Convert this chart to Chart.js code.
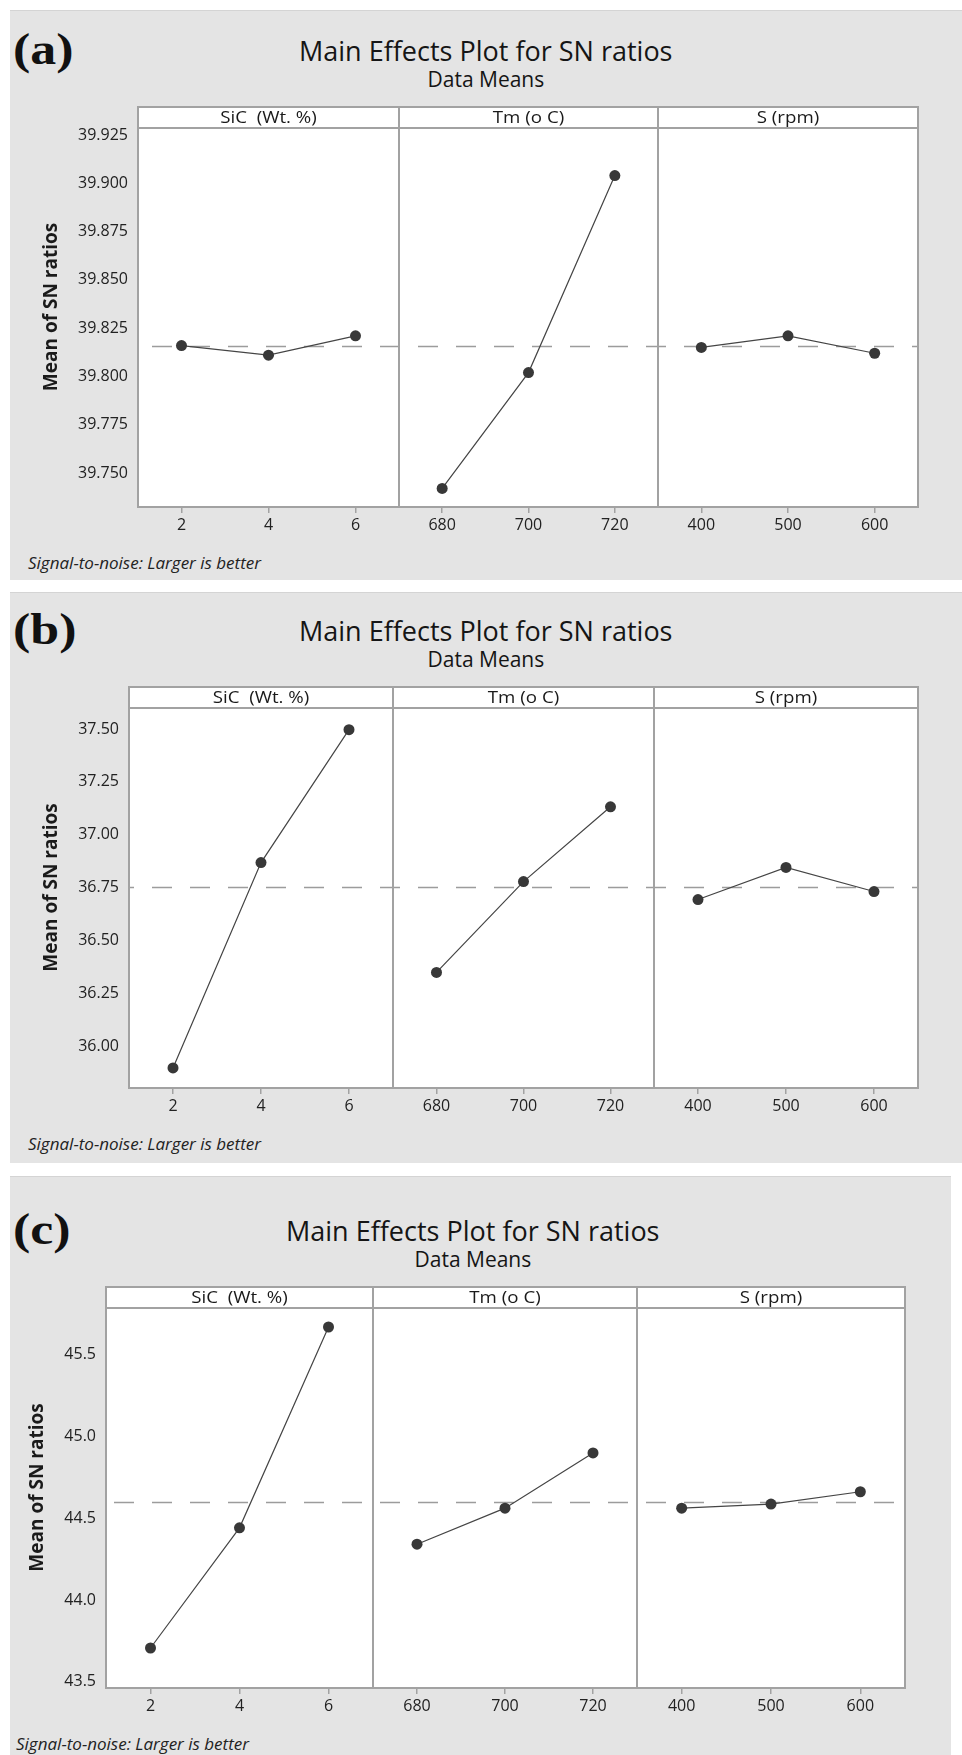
<!DOCTYPE html>
<html>
<head>
<meta charset="utf-8">
<script src="https://cdn.jsdelivr.net/npm/chart.js@4.4.1/dist/chart.umd.min.js"></script>
<style>
  html, body { margin: 0; padding: 0; background: #ffffff; }
  body { width: 962px; height: 1755px; position: relative; overflow: hidden; font-family: "Open Sans", "Noto Sans", sans-serif; }
  .fig { position: absolute; background: #e4e4e4; border-top: 1px solid #d4d4d4; box-sizing: border-box; }
  .tag { position: absolute; font-family: "Liberation Serif", "Times New Roman", serif; font-weight: bold; font-size: 44px; line-height: 1; color: #111; transform-origin: left center; white-space: nowrap; }
  .title { position: absolute; font-size: 27px; color: #151515; white-space: nowrap; line-height: 1; }
  .sub { position: absolute; font-size: 21px; color: #151515; white-space: nowrap; line-height: 1; }
  .note { position: absolute; font-style: italic; font-size: 17px; color: #222; white-space: nowrap; line-height: 1; }
  canvas { position: absolute; left: 0; }
</style>
</head>
<body>
<script>
// ---- factor levels (x categories) ----
const factorNames = ['SiC  (Wt. %)', 'Tm (o C)', 'S (rpm)'];
const sicLevels = ['2', '4', '6'];
const tmLevels = ['680', '700', '720'];
const speedLevels = ['400', '500', '600'];

// ---- (a) mean S/N ratios per level ----
const snA_SiC = [39.816, 39.811, 39.821];
const snA_Tm = [39.742, 39.802, 39.904];
const snA_S = [39.815, 39.821, 39.812];
const meanA = 39.816;
const yTicksA = [39.750, 39.775, 39.800, 39.825, 39.850, 39.875, 39.900, 39.925];

// ---- (b) mean S/N ratios per level ----
const snB_SiC = [35.896, 36.868, 37.497];
const snB_Tm = [36.348, 36.778, 37.132];
const snB_S = [36.693, 36.845, 36.731];
const meanB = 36.754;
const yTicksB = [36.00, 36.25, 36.50, 36.75, 37.00, 37.25, 37.50];

// ---- (c) mean S/N ratios per level ----
const snC_SiC = [43.707, 44.440, 45.665];
const snC_Tm = [44.340, 44.560, 44.897];
const snC_S = [44.560, 44.585, 44.660];
const meanC = 44.600;
const yTicksC = [43.5, 44.0, 44.5, 45.0, 45.5];

// ---- page layout (pixels) ----
const PAGE_W = 962;
const GRAY_LEFT = 10;
const STRIP_H = 21;
const PAD_TOP = 24;
const X_AXIS_H = 40;

const figures = [
  { tag: '(a)', grayTop: 10, grayBottom: 580, grayRight: 962,
    frameTop: 107, frameBottom: 507, edges: [138, 399, 658, 918],
    yMin: 39.7324, yMax: 39.9395, decimals: 3, ticks: yTicksA, mean: meanA,
    series: [snA_SiC, snA_Tm, snA_S], titleX: 486, titlePad: 40, noteX: 28 },
  { tag: '(b)', grayTop: 592, grayBottom: 1163, grayRight: 962,
    frameTop: 687, frameBottom: 1088, edges: [129, 393, 654, 918],
    yMin: 35.801, yMax: 37.699, decimals: 2, ticks: yTicksB, mean: meanB,
    series: [snB_SiC, snB_Tm, snB_S], titleX: 486, titlePad: 40, noteX: 28 },
  { tag: '(c)', grayTop: 1176, grayBottom: 1755, grayRight: 951,
    frameTop: 1287, frameBottom: 1688, edges: [106, 373, 637, 905],
    yMin: 43.463, yMax: 45.909, decimals: 1, ticks: yTicksC, mean: meanC,
    series: [snC_SiC, snC_Tm, snC_S], titleX: 473, titlePad: 26, noteX: 16 }
];
const levelSets = [sicLevels, tmLevels, speedLevels];

// white plot area, overall-mean reference line, factor strip and frame
const panelFrame = {
  id: 'panelFrame',
  beforeDraw(chart, args, opts) {
    const { ctx, chartArea: a } = chart;
    ctx.save();
    ctx.fillStyle = '#ffffff';
    ctx.fillRect(a.left, a.top, a.right - a.left, a.bottom - a.top);
    ctx.restore();
  },
  beforeDatasetsDraw(chart, args, opts) {
    const { ctx, chartArea: a } = chart;
    const y = Math.round(chart.scales.y.getPixelForValue(opts.mean)) + 0.5;
    ctx.save();
    ctx.strokeStyle = '#9c9c9c';
    ctx.lineWidth = 1.5;
    ctx.setLineDash([20, 18]);
    ctx.lineDashOffset = a.left;
    ctx.beginPath();
    ctx.moveTo(a.left, y);
    ctx.lineTo(a.right, y);
    ctx.stroke();
    ctx.restore();
  },
  afterDraw(chart, args, opts) {
    const { ctx, chartArea: a } = chart;
    ctx.save();
    ctx.strokeStyle = '#a2a2a2';
    ctx.lineWidth = 2;
    ctx.beginPath();
    ctx.moveTo(a.left, a.top + opts.stripH);
    ctx.lineTo(a.right, a.top + opts.stripH);
    ctx.stroke();
    ctx.strokeRect(a.left, a.top, a.right - a.left, a.bottom - a.top);
    ctx.fillStyle = '#1a1a1a';
    ctx.font = '17px "Open Sans", sans-serif';
    ctx.textAlign = 'center';
    ctx.textBaseline = 'middle';
    ctx.translate((a.left + a.right) / 2, a.top + opts.stripH / 2 + 1);
    ctx.scale(1.1, 1);
    ctx.fillText(opts.label, 0, 0);
    ctx.restore();
  }
};

function addText(cls, text, left, cy, extra) {
  const el = document.createElement('div');
  el.className = cls;
  el.textContent = text;
  document.body.appendChild(el);
  el.style.left = left + 'px';
  el.style.top = (cy - el.offsetHeight / 2) + 'px';
  if (extra) extra(el);
  return el;
}

function centered(cls, text, cx, cy) {
  const el = addText(cls, text, 0, cy);
  el.style.left = (cx - el.offsetWidth / 2) + 'px';
  return el;
}

figures.forEach(fig => {
  const bg = document.createElement('div');
  bg.className = 'fig';
  bg.style.left = GRAY_LEFT + 'px';
  bg.style.top = fig.grayTop + 'px';
  bg.style.width = (fig.grayRight - GRAY_LEFT) + 'px';
  bg.style.height = (fig.grayBottom - fig.grayTop) + 'px';
  document.body.appendChild(bg);

  addText('tag', fig.tag, 13, fig.frameTop - 57, el => { el.style.transform = 'scaleX(1.18)'; });
  centered('title', 'Main Effects Plot for SN ratios', fig.titleX, fig.frameTop - 57);
  centered('sub', 'Data Means', fig.titleX, fig.frameTop - 28);
  addText('note', 'Signal-to-noise: Larger is better', fig.noteX, fig.frameBottom + 55);

  const canvasTop = fig.frameTop - PAD_TOP;
  const canvasH = (fig.frameBottom - fig.frameTop) + PAD_TOP + X_AXIS_H;

  for (let p = 0; p < 3; p++) {
    const cv = document.createElement('canvas');
    cv.width = PAGE_W;
    cv.height = canvasH;
    cv.style.top = canvasTop + 'px';
    cv.style.width = PAGE_W + 'px';
    cv.style.height = canvasH + 'px';
    document.body.appendChild(cv);

    const L = fig.edges[p], R = fig.edges[p + 1];
    const first = p === 0;

    new Chart(cv, {
      type: 'line',
      data: {
        labels: levelSets[p],
        datasets: [{
          data: fig.series[p],
          borderColor: '#454545',
          borderWidth: 1.2,
          tension: 0,
          pointRadius: 5.5,
          pointBackgroundColor: '#383838',
          pointBorderColor: '#383838',
          pointBorderWidth: 0
        }]
      },
      options: {
        responsive: false,
        animation: false,
        events: [],
        layout: { padding: { left: first ? 0 : L, right: PAGE_W - R, top: PAD_TOP, bottom: 0 } },
        plugins: {
          legend: { display: false },
          tooltip: { enabled: false },
          panelFrame: { label: factorNames[p], mean: fig.mean, stripH: STRIP_H }
        },
        scales: {
          x: {
            type: 'category',
            offset: true,
            border: { display: false },
            grid: { drawOnChartArea: false, drawTicks: true, tickLength: 6, color: '#a2a2a2', lineWidth: 1.5 },
            ticks: { color: '#222', padding: 3, maxRotation: 0, font: { family: '"Open Sans", sans-serif', size: 16 } },
            afterFit(s) { s.height = X_AXIS_H; }
          },
          y: {
            display: first,
            min: fig.yMin,
            max: fig.yMax,
            border: { display: false },
            grid: { display: false, drawTicks: false },
            afterBuildTicks(s) { s.ticks = fig.ticks.map(v => ({ value: v })); },
            ticks: {
              color: '#222',
              padding: 10,
              font: { family: '"Open Sans", sans-serif', size: 16 },
              callback: v => Number(v).toFixed(fig.decimals)
            },
            title: {
              display: true,
              text: 'Mean of SN ratios',
              color: '#1a1a1a',
              font: { family: '"Open Sans", sans-serif', size: 19, weight: 'bold' },
              padding: { top: fig.titlePad, bottom: 0 }
            },
            afterFit(s) { if (first) s.width = L; }
          }
        }
      },
      plugins: [panelFrame]
    });
  }
});
</script>
</body>
</html>
